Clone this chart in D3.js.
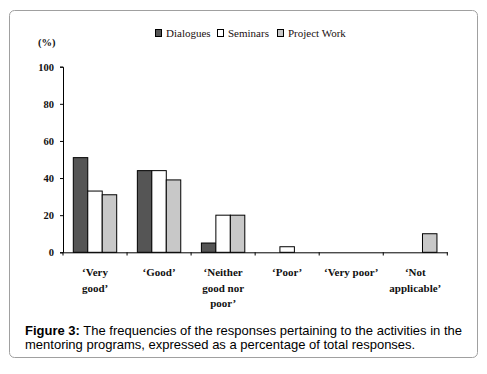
<!DOCTYPE html>
<html><head><meta charset="utf-8">
<script src="https://cdn.jsdelivr.net/npm/d3@7"></script>
<style>body{margin:0;background:#fff}svg{display:block}</style>
</head><body>
<svg id="c" width="487" height="374"></svg>
<script>
const categories = [["‘Very","good’"],["‘Good’"],["‘Neither","good nor","poor’"],["‘Poor’"],["‘Very poor’"],["‘Not","applicable’"]];
const seriesNames = ["Dialogues","Seminars","Project Work"];
const dialogues = [51, 44, 5, 0, 0, 0];
const seminars = [33, 44, 20, 3, 0, 0];
const projectWork = [31, 39, 20, 0, 0, 10];
const yTicks = [0,20,40,60,80,100];
const colors = ["#555555","#ffffff","#c8c8c8"];
const series = [dialogues, seminars, projectWork];

const svg = d3.select("#c");
svg.append("rect").attr("x",9.5).attr("y",10.5).attr("width",468).attr("height",347)
  .attr("rx",5).attr("fill","#fff").attr("stroke","#a0a0a0").attr("stroke-width",1);

const serif = "'Liberation Serif','Times New Roman',serif";
const x0 = d3.scaleBand().domain(d3.range(categories.length)).range([63,447.3]).paddingInner(0).paddingOuter(0);
const x1 = d3.scaleBand().domain(d3.range(3)).range([10.3, 53.7]);
const y = d3.scaleLinear().domain([0,100]).range([252.3,66.7]);

const g = svg.append("g");
categories.forEach((c,i)=>{
  series.forEach((s,j)=>{
    if(s[i]<=0) return;
    g.append("rect").attr("x",x0(i)+x1(j)).attr("y",y(s[i])).attr("width",x1.bandwidth()).attr("height",y(0)-y(s[i]))
      .attr("fill",colors[j]).attr("stroke","#000").attr("stroke-width",1);
  });
});

const ya = svg.append("g").attr("transform","translate(63,0)").call(d3.axisLeft(y).tickValues(yTicks).tickSize(3).tickPadding(6));
ya.select(".domain").attr("stroke","#000");
ya.selectAll("text").attr("font-family",serif).attr("font-weight","bold").attr("font-size","10.5px").attr("fill","#111");
const xa = svg.append("g").attr("transform","translate(0,252.3)").call(d3.axisBottom(x0).tickSize(0).tickFormat(""));
xa.select(".domain").attr("stroke","#000");
xa.selectAll(".tick").remove();
const bounds = d3.range(categories.length+1).map(i=> i<categories.length ? x0(i) : x0(categories.length-1)+x0.bandwidth());
svg.append("g").selectAll("line").data(bounds).join("line")
  .attr("x1",d=>d).attr("x2",d=>d).attr("y1",252.3).attr("y2",255.5).attr("stroke","#000");

categories.forEach((c,i)=>{
  const t = svg.append("text").attr("x",x0(i)+x0.bandwidth()/2).attr("y",276)
    .attr("text-anchor","middle").attr("font-family",serif).attr("font-weight","bold").attr("font-size","11px").attr("fill","#111");
  c.forEach((line,k)=> t.append("tspan").attr("x",x0(i)+x0.bandwidth()/2).attr("dy",k?15.7:0).text(line));
});

svg.append("text").attr("x",38).attr("y",45.5).attr("font-family",serif).attr("font-weight","bold").attr("font-size","10.5px").attr("fill","#111").text("(%)");

const legX = [155,217,277];
seriesNames.forEach((n,j)=>{
  svg.append("rect").attr("x",legX[j]+0.5).attr("y",29.5).attr("width",6).attr("height",7).attr("fill",colors[j]).attr("stroke","#000");
  svg.append("text").attr("x",legX[j]+11).attr("y",37).attr("font-family",serif).attr("font-size","11px").attr("fill","#1a0f0f").text(n);
});

const cap = svg.append("text").attr("font-family","'Liberation Sans',Arial,sans-serif").attr("font-size","13px").attr("fill","#000");
const l1 = cap.append("tspan").attr("x",25).attr("y",334.5);
l1.append("tspan").attr("font-weight","bold").text("Figure 3:");
l1.append("tspan").text(" The frequencies of the responses pertaining to the activities in the");
cap.append("tspan").attr("x",25).attr("y",349).text("mentoring programs, expressed as a percentage of total responses.");
</script>
</body></html>
